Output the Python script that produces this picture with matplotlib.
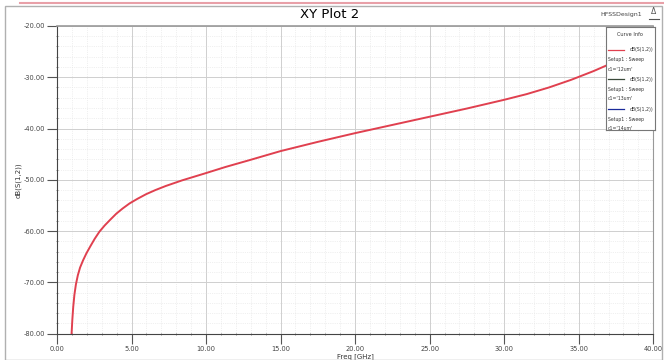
import matplotlib.pyplot as plt
import numpy as np
from matplotlib.ticker import MultipleLocator, FormatStrFormatter
from matplotlib.patches import Rectangle

# S21 curve
freq = [0.98, 1.03, 1.09, 1.17, 1.27, 1.4, 1.55, 1.75, 1.98, 2.25, 2.53, 2.85,
        3.2, 3.6, 3.98, 4.4, 4.87, 5.4, 5.98, 6.6, 7.3, 8.4, 9.87, 11.3, 12.87,
        15.0, 17.5, 20.0, 22.5, 25.0, 27.5, 30.0, 31.5, 33.0, 34.5, 36.0,
        37.5, 39.0, 40.0]
s21 = [-80.0, -77.3, -74.8, -72.4, -70.4, -68.6, -67.1, -65.7, -64.3, -62.9,
       -61.5, -60.1, -58.9, -57.7, -56.6, -55.6, -54.6, -53.7, -52.8, -52.0,
       -51.2, -50.1, -48.8, -47.5, -46.2, -44.4, -42.6, -40.9, -39.3, -37.7,
       -36.1, -34.4, -33.3, -32.0, -30.5, -28.8, -26.9, -24.8, -23.4]

legend_names = ["dB(S(1,2))", "dB(S(1,2))", "dB(S(1,2))"]
legend_setup = ["Setup1 : Sweep", "Setup1 : Sweep", "Setup1 : Sweep"]
legend_param = ["c1='12um'", "c1='13um'", "c1='14um'"]
legend_colors = ["#e0404f", "#3a4a3a", "#1a2a9a"]

fig = plt.figure(figsize=(6.64, 3.6), dpi=100)

# outer frame
fig.patches.append(Rectangle((0.008, 0.0), 0.989, 0.983, transform=fig.transFigure,
                             fill=False, edgecolor="#b0b0b0", lw=1.0))
fig.lines.append(plt.Line2D([0.03, 1.0], [0.992, 0.992], transform=fig.transFigure,
                            color="#e8a0a8", lw=1.5))

ax = fig.add_axes([0.0858, 0.073, 0.898, 0.855])
ax.plot(freq, s21, color="#e0404f", lw=1.4, zorder=3)

ax.set_xlim(0, 40)
ax.set_ylim(-80, -20)
ax.xaxis.set_major_locator(MultipleLocator(5))
ax.xaxis.set_minor_locator(MultipleLocator(1))
ax.yaxis.set_major_locator(MultipleLocator(10))
ax.yaxis.set_minor_locator(MultipleLocator(2))
ax.xaxis.set_major_formatter(FormatStrFormatter("%.2f"))
ax.yaxis.set_major_formatter(FormatStrFormatter("%.2f"))
ax.grid(which="major", color="#cfcfcf", lw=0.7)
ax.grid(which="minor", color="#e2e2e2", lw=0.5, ls=":")
ax.tick_params(which="major", labelsize=4.8, length=7, color="#555555", labelcolor="#444444", pad=1.5)
ax.tick_params(which="minor", length=2, direction="inout", color="#777777")
for s in ["top", "right"]:
    ax.spines[s].set_color("#999999")
for s in ["left", "bottom"]:
    ax.spines[s].set_color("#444444")
ax.spines["top"].set_linewidth(1.2)

ax.set_xlabel("Freq [GHz]", fontsize=5, labelpad=1, color="#333333")
fig.text(0.027, 0.5, "dB(S(1,2))", rotation=90, fontsize=5, ha="center", va="center", color="#333333")
fig.text(0.497, 0.96, "XY Plot 2", fontsize=9.5, ha="center", va="center")
fig.text(0.935, 0.96, "HFSSDesign1", fontsize=4.5, ha="center", va="center", color="#444444")
fig.text(0.985, 0.967, "\u0394", fontsize=5.5, ha="center", va="center", color="#555555")
fig.lines.append(plt.Line2D([0.977, 0.993], [0.948, 0.948], transform=fig.transFigure,
                            color="#555555", lw=0.8))

# legend box ("Curve Info")
lg = fig.add_axes([0.912, 0.64, 0.074, 0.285])
lg.set_xlim(0, 1)
lg.set_ylim(0, 1)
lg.set_xticks([])
lg.set_yticks([])
lg.set_facecolor("white")
for s in lg.spines.values():
    s.set_color("#777777")
    s.set_linewidth(0.8)
lg.text(0.5, 0.93, "Curve Info", fontsize=3.6, ha="center", va="center", color="#333333")
for i in range(3):
    y0 = 0.78 - i * 0.29
    lg.plot([0.05, 0.38], [y0, y0], color=legend_colors[i], lw=0.9)
    lg.text(0.97, y0, legend_names[i], fontsize=3.3, ha="right", va="center", color="#333333")
    lg.text(0.04, y0 - 0.1, legend_setup[i], fontsize=3.3, ha="left", va="center", color="#333333")
    lg.text(0.04, y0 - 0.19, legend_param[i], fontsize=3.3, ha="left", va="center", color="#333333")

fig.savefig("out.png", dpi=100)
